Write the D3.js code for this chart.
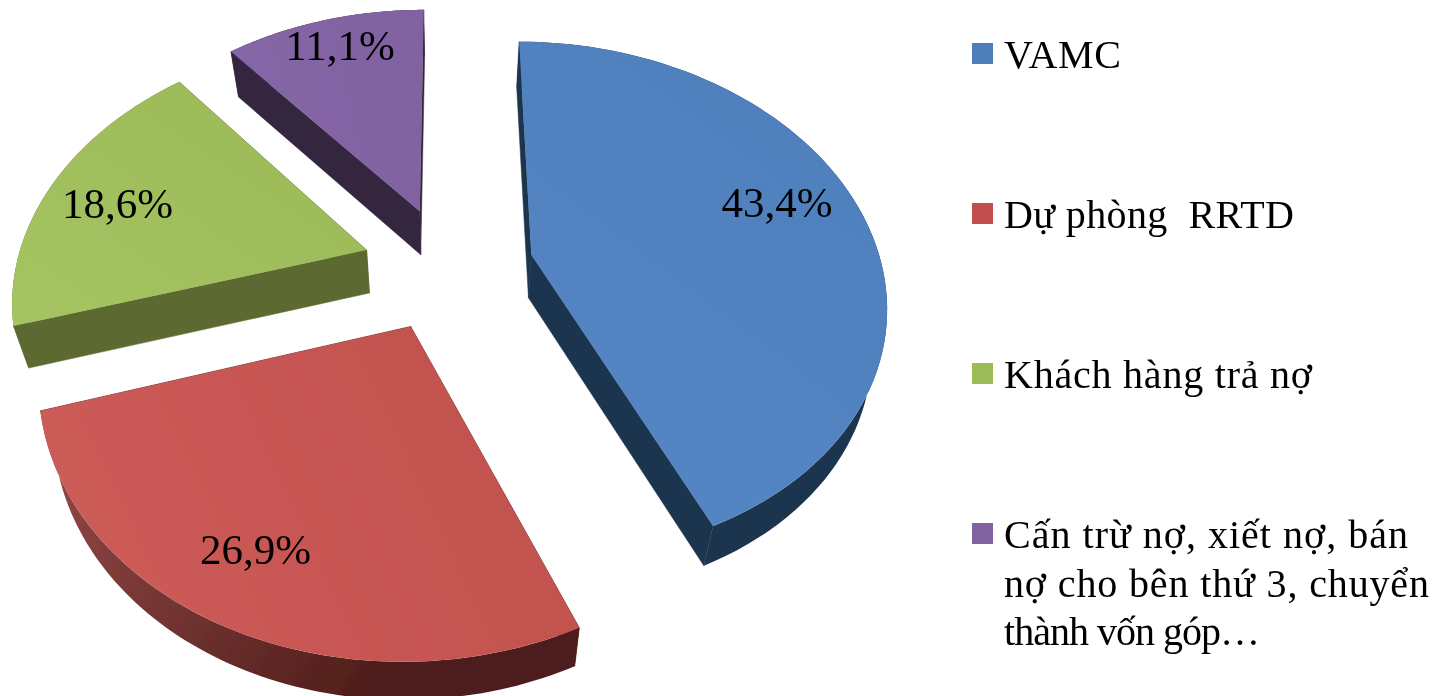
<!DOCTYPE html>
<html><head><meta charset="utf-8">
<script src="https://cdn.jsdelivr.net/npm/d3@7"></script>
<style>
html,body{margin:0;padding:0;background:#fff;overflow:hidden}
text{font-family:"Liberation Serif","Times New Roman",serif;fill:#000}
</style></head><body><svg id="c" width="1440" height="696" xmlns="http://www.w3.org/2000/svg"></svg>
<script>
const categories = ["VAMC","Dự phòng  RRTD","Khách hàng trả nợ","Cấn trừ nợ, xiết nợ, bán|nợ cho bên thứ 3, chuyển|thành vốn góp…"];
const values = [43.4,26.9,18.6,11.1];
const valueLabels = ["43,4%","26,9%","18,6%","11,1%"];
const topLight = ["#5486c6","#cf5d5a","#a5c462","#8566a6"];
const topDark  = ["#4f7fbb","#c0504d","#9dbb59","#8062a0"];
const cutFace  = ["#1f344f","#4e1c1a","#5c6b32","#342640"];
const wallFrom = ["#1f344f","#8f4744","#5c6b32","#342640"];
const wallTo   = ["#1f344f","#4e1c1a","#5c6b32","#342640"];

// perspective layout
const explode=0.245, Xv=448, Yh=-1200, sA=6.814e-4, sB=1.18e-4, K=0.239;
const labelR=[0.74,0.79,0.77,0.85];
const labelShift=[[2.5,-15],[-11.5,-3],[-5.5,6],[3.5,0]];
const legendWidths=[[117],[290],[308],[404,425,256]];
const project=(u,v)=>{const d=1/(sA+sB*v);return [Xv+K*u*d,Yh+d];};
const extrude=([x,y])=>[Xv+0.965*(x-Xv), y+46-0.012*y];

const svg=d3.select("#c");
const defs=svg.append("defs");
const blur=defs.append("filter").attr("id","soft");
blur.append("feGaussianBlur").attr("stdDeviation",0.5);
const pie=d3.pie().sort(null).value(d=>d);
const arcs=pie(values);
const line=d3.line().curve(d3.curveLinear);

const root=svg.append("g").attr("filter","url(#soft)");
const order=[3,2,0,1];
order.forEach(i=>{
  const a=arcs[i], mid=(a.startAngle+a.endAngle)/2;
  const ou=explode*Math.sin(mid), ov=explode*Math.cos(mid);
  const apex=project(ou,ov);
  const n=80;
  const rim=d3.range(n+1).map(k=>{
    const t=a.startAngle+(a.endAngle-a.startAngle)*k/n;
    return project(ou+Math.sin(t),ov+Math.cos(t));
  });
  const g=root.append("g");
  const rimB=rim.map(extrude), apexB=extrude(apex);
  const gw=defs.append("linearGradient").attr("id","wall"+i).attr("gradientUnits","userSpaceOnUse")
    .attr("x1",i===1?60:520).attr("y1",i===1?470:300).attr("x2",i===1?380:880).attr("y2",i===1?690:500);
  gw.append("stop").attr("offset",0).attr("stop-color",wallFrom[i]);
  gw.append("stop").attr("offset",1).attr("stop-color",wallTo[i]);
  const gt=defs.append("linearGradient").attr("id","top"+i).attr("gradientUnits","userSpaceOnUse")
    .attr("x1",d3.min(rim,p=>p[0])).attr("y1",d3.max(rim,p=>p[1]))
    .attr("x2",d3.max(rim,p=>p[0])).attr("y2",d3.min(rim,p=>p[1]));
  gt.append("stop").attr("offset",0).attr("stop-color",topLight[i]);
  gt.append("stop").attr("offset",1).attr("stop-color",topDark[i]);
  [[apex,rim[0],rimB[0],apexB],[apex,rim[n],rimB[n],apexB]].forEach(q=>{
    g.append("path").attr("d",line(q)+"Z").attr("fill",cutFace[i]).attr("stroke",cutFace[i]).attr("stroke-width",0.5);
  });
  g.append("path").attr("d",line(rim.concat(rimB.slice().reverse()))+"Z").attr("fill",`url(#wall${i})`);
  g.append("path").attr("d",line([apex].concat(rim))+"Z").attr("fill",`url(#top${i})`);
  const [lx,ly]=project(ou+labelR[i]*Math.sin(mid),ov+labelR[i]*Math.cos(mid));
  svg.append("text").attr("x",lx+labelShift[i][0]).attr("y",ly+14+labelShift[i][1]).attr("text-anchor","middle").attr("font-size",43).attr("filter","url(#soft)").text(valueLabels[i]);
});

// legend
const legendY=d3.scalePoint().domain(d3.range(categories.length)).range([53.5,533.5]);
categories.forEach((c,i)=>{
  const y=legendY(i);
  const g=svg.append("g").attr("filter","url(#soft)");
  g.append("rect").attr("x",972).attr("y",y-10.5).attr("width",21).attr("height",21).attr("fill",topDark[i]);
  c.split("|").forEach((t,j)=>{
    g.append("text").attr("x",1004).attr("y",y+14.5+j*48.5).attr("font-size",40)
      .attr("textLength",legendWidths[i][j]).attr("lengthAdjust","spacing")
      .style("white-space","pre").text(t);
  });
});
</script></body></html>
